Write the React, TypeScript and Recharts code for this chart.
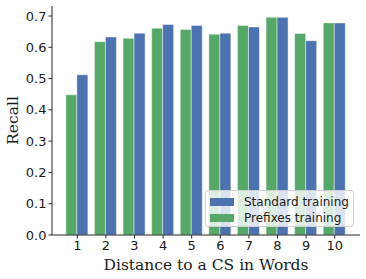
import React from "react";
import { BarChart, Bar, XAxis, YAxis } from "recharts";

const categories = ["1", "2", "3", "4", "5", "6", "7", "8", "9", "10"];
const prefixesTraining = [0.448, 0.618, 0.629, 0.661, 0.657, 0.642, 0.67, 0.696, 0.644, 0.678];
const standardTraining = [0.512, 0.633, 0.645, 0.673, 0.67, 0.645, 0.665, 0.696, 0.621, 0.678];
const yTicks = [0, 0.1, 0.2, 0.3, 0.4, 0.5, 0.6, 0.7];

const data = categories.map((c, i) => ({
  name: c,
  prefixes: prefixesTraining[i],
  standard: standardTraining[i],
}));

const GREEN = "#55A868";
const BLUE = "#4C72B0";
const AXIS = "#262626";
const SANS = "DejaVu Sans, sans-serif";
const SERIF = "DejaVu Serif, serif";

const legendItems = [
  { c: BLUE, t: "Standard training" },
  { c: GREEN, t: "Prefixes training" },
];

export default function App() {
  return (
    <div style={{ position: "absolute", left: 0, top: 0, width: 366, height: 279, background: "#fff" }}>
      <BarChart
        width={366}
        height={279}
        data={data}
        margin={{ top: 6, right: 6, left: 0, bottom: 0 }}
        barCategoryGap="10%"
        barGap={0}
      >
        <XAxis
          dataKey="name"
          height={44}
          padding={{ left: 11, right: 11 }}
          tickLine={{ stroke: AXIS }}
          tickSize={3.5}
          axisLine={{ stroke: AXIS, strokeWidth: 1 }}
          tick={{ fill: "#1a1a1a", fontFamily: SANS, fontSize: 13 }}
          interval={0}
          label={{
            value: "Distance to a CS in Words",
            position: "insideBottom",
            offset: 9,
            fill: "#1a1a1a",
            fontFamily: SERIF,
            fontSize: 15.5,
          }}
        />
        <XAxis
          xAxisId="top"
          dataKey="name"
          orientation="top"
          height={0}
          tick={false}
          tickLine={false}
          axisLine={{ stroke: AXIS, strokeWidth: 1 }}
        />
        <YAxis
          width={52}
          domain={[0, 0.732]}
          ticks={yTicks}
          tickFormatter={(v: number) => v.toFixed(1)}
          tickLine={{ stroke: AXIS }}
          tickSize={3.5}
          axisLine={{ stroke: AXIS, strokeWidth: 1 }}
          tick={{ fill: "#1a1a1a", fontFamily: SANS, fontSize: 13 }}
          label={{
            value: "Recall",
            angle: -90,
            position: "insideLeft",
            offset: 12,
            style: { textAnchor: "middle" },
            fill: "#1a1a1a",
            fontFamily: SERIF,
            fontSize: 15.5,
          }}
        />
        <YAxis
          yAxisId="right"
          orientation="right"
          width={0}
          tick={false}
          tickLine={false}
          axisLine={{ stroke: AXIS, strokeWidth: 1 }}
        />
        <Bar
          dataKey="prefixes"
          name="Prefixes training"
          fill={GREEN}
          stroke="#ffffff"
          strokeOpacity={0.45}
          strokeWidth={1}
          isAnimationActive={false}
        />
        <Bar
          dataKey="standard"
          name="Standard training"
          fill={BLUE}
          stroke="#ffffff"
          strokeOpacity={0.45}
          strokeWidth={1}
          isAnimationActive={false}
        />
      </BarChart>
      <div
        style={{
          position: "absolute",
          left: 205,
          top: 190,
          width: 149,
          height: 37,
          background: "rgba(255,255,255,0.8)",
          border: "1px solid #d0d0d0",
          borderRadius: 3,
          padding: "3px 4px 2px 4px",
          fontFamily: SANS,
          fontSize: 12,
          color: "#1a1a1a",
          boxSizing: "border-box",
          whiteSpace: "nowrap",
        }}
      >
        {legendItems.map((e) => (
          <div key={e.t} style={{ display: "flex", alignItems: "center", height: 16 }}>
            <div style={{ width: 24, height: 8, background: e.c, marginRight: 10 }} />
            <span>{e.t}</span>
          </div>
        ))}
      </div>
    </div>
  );
}
